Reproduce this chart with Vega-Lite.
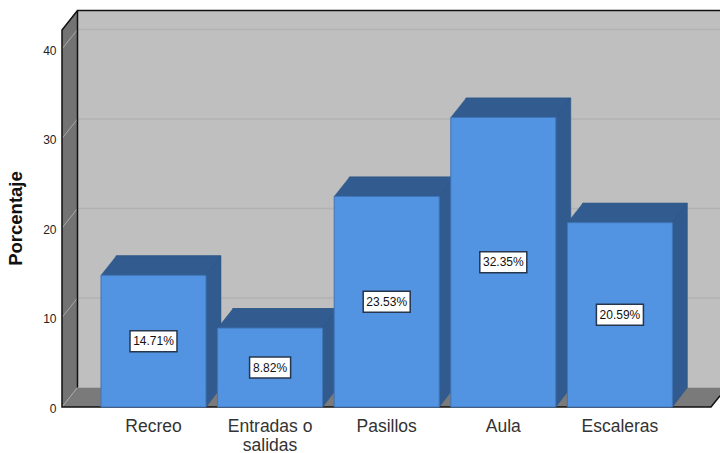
{
"$schema":"https://vega.github.io/schema/vega-lite/v6.json",
"autosize":{"type":"none"},
"padding":{"left":62,"top":10,"right":0,"bottom":46},
"width":658,"height":397,
"background":"white",
"config":{"view":{"stroke":null},"font":"Liberation Sans"},
"datasets":{
 "barras":[
  {"Zona":"Recreo","Porcentaje":14.71,"mitad":7.355,"Etiqueta":"14.71%"},
  {"Zona":"Entradas o salidas","Porcentaje":8.82,"mitad":4.41,"Etiqueta":"8.82%"},
  {"Zona":"Pasillos","Porcentaje":23.53,"mitad":11.765,"Etiqueta":"23.53%"},
  {"Zona":"Aula","Porcentaje":32.35,"mitad":16.175,"Etiqueta":"32.35%"},
  {"Zona":"Escaleras","Porcentaje":20.59,"mitad":10.295,"Etiqueta":"20.59%"}
 ],
 "base":[{"Zona":"Recreo","Porcentaje":0}],
 "marcas":[{"Zona":"Recreo","Porcentaje":0},{"Zona":"Recreo","Porcentaje":10},{"Zona":"Recreo","Porcentaje":20},{"Zona":"Recreo","Porcentaje":30},{"Zona":"Recreo","Porcentaje":40}],
 "rejilla":[{"Zona":"Recreo","Porcentaje":10},{"Zona":"Recreo","Porcentaje":20},{"Zona":"Recreo","Porcentaje":30},{"Zona":"Recreo","Porcentaje":40}]
},
"encoding":{
 "x":{"field":"Zona","type":"nominal","sort":null,"title":null,
  "scale":{"domain":["Recreo","Entradas o salidas","Pasillos","Aula","Escaleras"],"range":[33.2,616.2],"paddingInner":0.0995,"paddingOuter":0.0497},
  "axis":{"domain":false,"ticks":false,"labelAngle":0,"labelFontSize":17.5,"labelColor":"#333333","labelPadding":10,"labelLineHeight":19.5,"labelOverlap":false,"labelFlush":false,"labelFont":"Liberation Sans","zindex":1,
   "labelExpr":"datum.label=='Entradas o salidas'?['Entradas o','salidas']:datum.label"}},
 "y":{"field":"Porcentaje","type":"quantitative","title":"Porcentaje",
  "scale":{"domain":[0,44.36],"nice":false,"zero":true},
  "axis":{"values":[0,10,20,30,40],"domain":false,"ticks":false,"grid":false,"labelFontSize":12,"labelColor":"#222222","labelPadding":6,"labelOffset":1,"labelFont":"Liberation Sans","titleFont":"Liberation Sans","titleFontSize":18.5,"titleFontWeight":"bold","titleColor":"#111111","titleX":-37,"titleY":208,"titleAngle":-90,"zindex":1}}
},
"layer":[
 {"data":{"name":"base"},"mark":{"type":"point","size":4,"filled":true,"opacity":1,"fill":"#bfbfbf","strokeWidth":0,"shape":"M-76,-396.5 L566.5,-396.5 L566.5,-19.5 L-76,-19.5 Z"}},
 {"data":{"name":"rejilla"},"mark":{"type":"point","size":4,"filled":false,"opacity":1,"stroke":"#b2b2b2","strokeWidth":1.5,"shape":"M-76,-19.5 L566.5,-19.5"}},
 {"data":{"name":"base"},"mark":{"type":"point","size":4,"filled":true,"opacity":1,"fill":"#7a7a7a","strokeWidth":0,"shape":"M-91.5,0 L-76,-19.5 L566.5,-19.5 L566.5,-11.3 L557.5,0 Z"}},
 {"data":{"name":"base"},"mark":{"type":"point","size":4,"filled":true,"opacity":1,"fill":"#737373","strokeWidth":0,"shape":"M-91.5,0 L-91.5,-377 L-76,-396.5 L-76,-19.5 Z"}},
 {"data":{"name":"marcas"},"mark":{"type":"point","size":4,"filled":false,"opacity":1,"stroke":"#a8a8a8","strokeWidth":1,"shape":"M-91.5,0 L-76,-19.5"}},
 {"data":{"name":"base"},"mark":{"type":"point","size":4,"filled":false,"opacity":1,"stroke":"#111111","strokeWidth":1.5,"shape":"M566.5,-396.5 L-76,-396.5 L-76,-19.5 M-76,-396.5 L-91.5,-377 L-91.5,0 L557.5,0 L566.5,-11.3"}},
 {"data":{"name":"barras"},"mark":{"type":"bar","color":"#315b8e","xOffset":15,"yOffset":-19.5,"stroke":"#2d5484","strokeWidth":0.5}},
 {"data":{"name":"barras"},"mark":{"type":"point","size":4,"filled":true,"opacity":1,"fill":"#325c8f","stroke":"#2d5484","strokeWidth":0.5,"shape":"M-52.5,0 L-37,-19.5 L67.5,-19.5 L52.5,0 Z"}},
 {"data":{"name":"barras"},"mark":{"type":"point","size":4,"filled":true,"opacity":1,"fill":"#315b8e","stroke":"#2d5484","strokeWidth":0.5,"shape":"M52.5,0 L52.5,-19.5 L67.5,-19.5 Z"},
  "encoding":{"y":{"datum":0}}},
 {"data":{"name":"barras"},"mark":{"type":"bar","color":"#5294e2","stroke":"#3f75b8","strokeWidth":1}},
 {"data":{"name":"barras"},"mark":{"type":"point","size":4,"filled":true,"opacity":1,"fill":"white","stroke":"#26364d","strokeWidth":1.5},
  "encoding":{"y":{"field":"mitad","type":"quantitative","title":"Porcentaje"},
   "shape":{"field":"Etiqueta","type":"nominal","legend":null,"scale":{"domain":["14.71%","8.82%","23.53%","32.35%","20.59%"],"range":["M-23.5,-10.5 L23.5,-10.5 L23.5,10.5 L-23.5,10.5 Z","M-20.5,-10.5 L20.5,-10.5 L20.5,10.5 L-20.5,10.5 Z","M-23.5,-10.5 L23.5,-10.5 L23.5,10.5 L-23.5,10.5 Z","M-23.5,-10.5 L23.5,-10.5 L23.5,10.5 L-23.5,10.5 Z","M-23.5,-10.5 L23.5,-10.5 L23.5,10.5 L-23.5,10.5 Z"]}}}},
 {"data":{"name":"barras"},"mark":{"type":"text","fontSize":12,"font":"Liberation Sans","color":"#111111","baseline":"middle","align":"center"},
  "encoding":{"y":{"field":"mitad","type":"quantitative","title":"Porcentaje"},"text":{"field":"Etiqueta","type":"nominal"}}}
]
}
